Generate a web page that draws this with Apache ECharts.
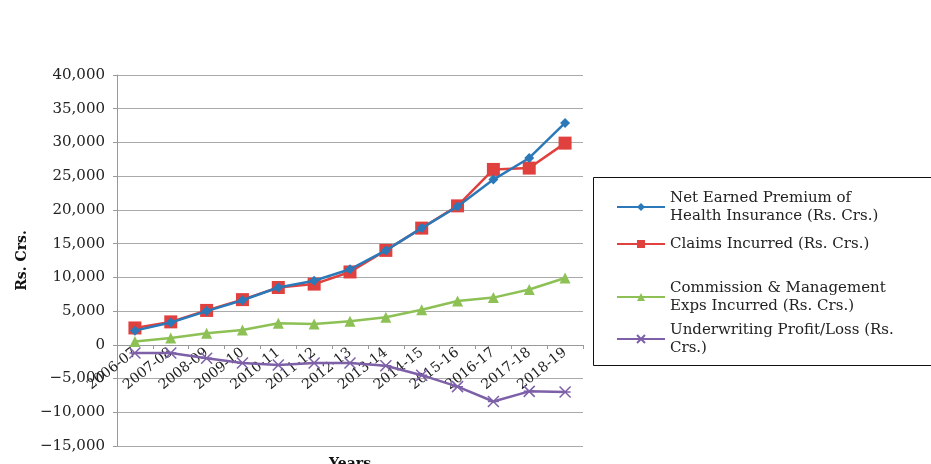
<!DOCTYPE html>
<html><head><meta charset="utf-8">
<script src="https://cdn.jsdelivr.net/npm/echarts@6/dist/echarts.min.js"></script>
<style>html,body{margin:0;padding:0;background:#fff}#c{width:931px;height:464px}</style>
</head><body><div id="c"></div>
<script>
const categories = ['2006-07','2007-08','2008-09','2009-10','2010-11','2011-12','2012-13','2013-14','2014-15','2015-16','2016-17','2017-18','2018-19'];
const netPremium = [2100, 3300, 5000, 6600, 8500, 9500, 11200, 14000, 17300, 20500, 24500, 27700, 32900];
const claims = [2500, 3400, 5100, 6700, 8500, 9000, 10800, 14000, 17300, 20600, 26000, 26200, 29900];
const commission = [500, 1000, 1700, 2200, 3200, 3100, 3500, 4100, 5200, 6500, 7000, 8200, 9900];
const underwriting = [-1200, -1200, -2000, -2700, -3000, -2700, -2700, -3100, -4500, -6200, -8400, -6900, -7000];
const seriesNames = ['Net Earned Premium of\nHealth Insurance (Rs. Crs.)','Claims Incurred (Rs. Crs.)','Commission & Management\nExps Incurred (Rs. Crs.)','Underwriting Profit/Loss (Rs.\nCrs.)'];
const yTicks = {min: -15000, max: 40000, interval: 5000};

const FONT = 'DejaVu Serif';
const colors = ['#2B79B8','#E0403E','#8DC155','#7D60A8'];
const symbols = ['diamond','rect','triangle','path://M0,0L10,10M10,0L0,10M0,5L10,5'];
const sizes = [10, 13, 11, 11];
const datasets = [netPremium, claims, commission, underwriting];

function fmt(v){
  const s = Math.abs(v).toString().replace(/\B(?=(\d{3})+(?!\d))/g, ',');
  return v < 0 ? '\u2212' + s : s;
}

const legendTops = [184, 230, 274, 316];
const legends = seriesNames.map((n,i)=>({
  data:[n], left: 611, top: legendTops[i], orient:'vertical',
  itemWidth: 48, itemHeight: 10, itemGap: 0,
  textStyle:{fontFamily:FONT, fontSize:15, color:'#222', lineHeight:18}
}));

const chart = echarts.init(document.getElementById('c'));
chart.setOption({
  animation:false,
  color: colors,
  grid:{left:117, right:348, top:75, bottom:18, containLabel:false, outerBoundsMode:'none'},
  legend: legends,
  graphic:[{type:'rect', shape:{x:593.5, y:177.5, width:345, height:188}, style:{fill:'none', stroke:'#111', lineWidth:1}, silent:true}],
  xAxis:{
    type:'category', data:categories, boundaryGap:true,
    offset:-101,
    name:'Years', nameLocation:'middle', nameGap:112,
    nameTextStyle:{fontFamily:FONT, fontSize:14, fontWeight:'bold', color:'#111'},
    axisLine:{onZero:false, lineStyle:{color:'#999'}},
    axisTick:{show:true, length:4, lineStyle:{color:'#999'}},
    axisLabel:{rotate:38, fontFamily:FONT, fontSize:14, color:'#222', margin:6, interval:0}
  },
  yAxis:{
    type:'value', min:yTicks.min, max:yTicks.max, interval:yTicks.interval,
    name:'Rs. Crs.', nameLocation:'middle', nameGap:88,
    nameTextStyle:{fontFamily:FONT, fontSize:14, fontWeight:'bold', color:'#111'},
    axisLine:{show:true, lineStyle:{color:'#999'}},
    axisTick:{show:true, length:4, lineStyle:{color:'#999'}},
    splitLine:{lineStyle:{color:'#aaa'}},
    axisLabel:{fontFamily:FONT, fontSize:15, color:'#222', margin:12, formatter:fmt}
  },
  series: seriesNames.map((n,i)=>({
    name:n, type:'line', data:datasets[i],
    symbol:symbols[i], symbolSize:sizes[i], showSymbol:true,
    lineStyle:{width:2.5, color:colors[i]},
    itemStyle:{color: i===3 ? 'none' : colors[i], borderColor:colors[i], borderWidth: i===3 ? 1.5 : 0},
    z: [4,3,2,5][i]
  }))
});
</script></body></html>
